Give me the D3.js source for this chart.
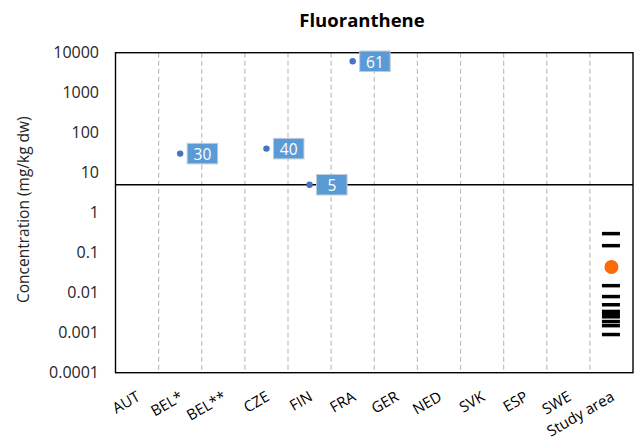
<!DOCTYPE html>
<html>
<head>
<meta charset="utf-8">
<script src="https://cdn.jsdelivr.net/npm/d3@7"></script>
<style>
  html, body { margin: 0; padding: 0; background: #fff; }
  svg text { font-family: "Open Sans", "Liberation Sans", sans-serif; }
</style>
</head>
<body>
<svg id="chart" width="637" height="445"></svg>
<script>
// Categories along the x axis
const categories = ["AUT", "BEL*", "BEL**", "CZE", "FIN", "FRA", "GER", "NED", "SVK", "ESP", "SWE", "Study area"];

// Reported country values (mg/kg dw) and their label texts
const countryNames  = ["BEL*", "CZE", "FIN", "FRA"];
const countryValues = [30, 40, 5, 6100];
const countryLabels = ["30", "40", "5", "61"];

// Individual study-area samples (mg/kg dw) and their mean
const studySamples = [0.3, 0.15, 0.015, 0.008, 0.005, 0.0034, 0.003, 0.0025, 0.0019, 0.0015, 0.0009];
const studyMean = [0.044];

// Reference level drawn as a horizontal line
const thresholdValue = [5];

// Log-axis ticks and their labels
const yTickValues = [1e4, 1e3, 1e2, 10, 1, 0.1, 0.01, 0.001, 0.0001];
const yTickLabels = ["10000", "1000", "100", "10", "1", "0.1", "0.01", "0.001", "0.0001"];

const chartTitle = "Fluoranthene";
const yTitle = "Concentration (mg/kg dw)";

const svg = d3.select("#chart");
const plot = { left: 115.5, right: 633, top: 52.7, bottom: 372.7 };

const x = d3.scaleBand().domain(categories).range([plot.left, plot.right]).padding(0);
const y = d3.scaleLog().domain([1e-4, 1e4]).range([plot.bottom, plot.top]);

// Title
svg.append("text")
  .attr("x", 362).attr("y", 27)
  .attr("text-anchor", "middle")
  .attr("font-weight", "bold")
  .attr("font-size", 18.5)
  .attr("fill", "#000")
  .text(chartTitle);

// Dashed vertical separators between categories
svg.append("g")
  .selectAll("line")
  .data(categories.slice(1))
  .join("line")
  .attr("x1", d => x(d)).attr("x2", d => x(d))
  .attr("y1", plot.top).attr("y2", plot.bottom)
  .attr("stroke", "#bfbfbf")
  .attr("stroke-width", 1.2)
  .attr("stroke-dasharray", "5,3");

// Plot frame
svg.append("rect")
  .attr("x", plot.left).attr("y", plot.top)
  .attr("width", plot.right - plot.left)
  .attr("height", plot.bottom - plot.top)
  .attr("fill", "none")
  .attr("stroke", "#000")
  .attr("stroke-width", 1.4);

// Threshold line
svg.append("g")
  .selectAll("line")
  .data(thresholdValue)
  .join("line")
  .attr("x1", plot.left).attr("x2", plot.right)
  .attr("y1", d => y(d)).attr("y2", d => y(d))
  .attr("stroke", "#000")
  .attr("stroke-width", 1.4);

// Y axis
const yAxis = d3.axisLeft(y)
  .tickValues(yTickValues)
  .tickFormat((d, i) => yTickLabels[i])
  .tickSize(0)
  .tickPadding(16.5);
const gy = svg.append("g")
  .attr("transform", `translate(${plot.left},0)`)
  .call(yAxis);
gy.select(".domain").remove();
gy.selectAll("text")
  .attr("font-size", 16)
  .attr("fill", "#262626")
  .style("font-family", "'Open Sans', sans-serif");

// Y axis title
svg.append("text")
  .attr("transform", `translate(23,${(plot.top + plot.bottom) / 2 - 3}) rotate(-90)`)
  .attr("text-anchor", "middle")
  .attr("dominant-baseline", "central")
  .attr("font-size", 15.5)
  .attr("fill", "#262626")
  .text(yTitle);

// X axis with slanted labels
const xAxis = d3.axisBottom(x).tickSize(0).tickPadding(0);
const gx = svg.append("g")
  .attr("transform", `translate(0,${plot.bottom})`)
  .call(xAxis);
gx.select(".domain").remove();
gx.selectAll("text")
  .attr("font-size", 15)
  .attr("fill", "#000")
  .attr("text-anchor", "end")
  .attr("dy", null)
  .attr("y", 0)
  .attr("transform", "translate(4,27) rotate(-30)")
  .style("font-family", "'Open Sans', sans-serif");

// Country points with value boxes
const countryData = countryNames.map((c, i) => ({ c, v: countryValues[i], label: countryLabels[i] }));
const cx = d => x(d.c) + x.bandwidth() / 2;

svg.append("g")
  .selectAll("circle")
  .data(countryData)
  .join("circle")
  .attr("cx", cx)
  .attr("cy", d => y(d.v))
  .attr("r", 3.2)
  .attr("fill", "#4472c4");

const boxW = 30.5, boxH = 20.5, boxGap = 7;
const labels = svg.append("g")
  .selectAll("g")
  .data(countryData)
  .join("g")
  .attr("transform", d => `translate(${cx(d) + boxGap},${y(d.v) - boxH / 2})`);
labels.append("rect")
  .attr("width", boxW).attr("height", boxH)
  .attr("fill", "#5b9bd5")
  .attr("stroke", "#bfcbd9")
  .attr("stroke-width", 1);
labels.append("text")
  .attr("x", boxW / 2).attr("y", boxH / 2 + 0.5)
  .attr("text-anchor", "middle")
  .attr("dominant-baseline", "central")
  .attr("font-size", 15.5)
  .attr("fill", "#fff")
  .text(d => d.label);

// Study-area samples as short horizontal dashes
const sx = x("Study area") + x.bandwidth() / 2;
svg.append("g")
  .selectAll("line")
  .data(studySamples)
  .join("line")
  .attr("x1", sx - 9.5).attr("x2", sx + 8.5)
  .attr("y1", d => y(d)).attr("y2", d => y(d))
  .attr("stroke", "#000")
  .attr("stroke-width", 3.5);

// Study-area mean
svg.append("g")
  .selectAll("circle")
  .data(studyMean)
  .join("circle")
  .attr("cx", sx).attr("cy", d => y(d))
  .attr("r", 7)
  .attr("fill", "#fb6a0a");
</script>
</body>
</html>
